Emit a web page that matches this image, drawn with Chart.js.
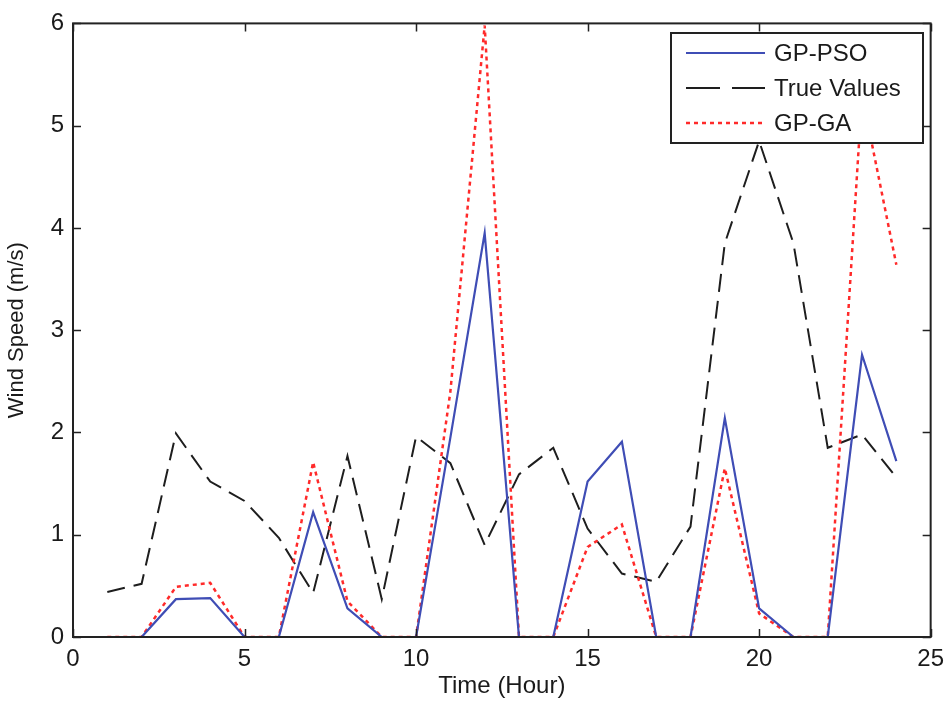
<!DOCTYPE html>
<html>
<head>
<meta charset="utf-8">
<script src="https://cdn.jsdelivr.net/npm/chart.js@4"></script>
<style>
  html, body { margin: 0; padding: 0; background: #fff; }
  #wrap { width: 952px; height: 705px; }
</style>
</head>
<body>
<div id="wrap"><canvas id="chart" width="952" height="705"></canvas></div>
<script>
// hours on the x axis
const hours = [1, 2, 3, 4, 5, 6, 7, 8, 9, 10, 11, 12, 13, 14, 15, 16, 17, 18, 19, 20, 21, 22, 23, 24];

// series (m/s)
const gpPso = [0, 0, 0.37, 0.38, 0, 0, 1.22, 0.28, 0, 0, 1.95, 3.95, 0, 0, 1.52, 1.91, 0, 0, 2.14, 0.28, 0, 0, 2.76, 1.72];
const trueValues = [0.44, 0.52, 1.99, 1.52, 1.33, 0.97, 0.43, 1.77, 0.37, 1.96, 1.70, 0.90, 1.59, 1.85, 1.06, 0.62, 0.54, 1.08, 3.85, 4.85, 3.85, 1.85, 1.98, 1.56];
const gpGa = [0, 0, 0.49, 0.53, 0, 0, 1.71, 0.35, 0, 0, 2.40, 5.98, 0, 0, 0.88, 1.10, 0, 0, 1.65, 0.23, 0, 0, 5.30, 3.64];

const xTicks = [0, 5, 10, 15, 20, 25];
const yTicks = [0, 1, 2, 3, 4, 5, 6];

const FONT = 'Liberation Sans, Arial, sans-serif';
const TXT = '#1a1a1a';

const toPoints = (ys) => ys.map((y, i) => ({ x: hours[i], y: y }));

// matlab-style frame: box + ticks pointing inwards on all four sides, legend in the corner
const framePlugin = {
    id: 'frame',
    afterDatasetsDraw(chart) {
        const { ctx, chartArea: a, scales } = chart;
        const len = 8;
        ctx.save();
        ctx.strokeStyle = '#222';
        ctx.lineWidth = 1.5;
        ctx.beginPath();
        xTicks.forEach(v => {
            const px = Math.round(scales.x.getPixelForValue(v)) + 0.5;
            ctx.moveTo(px, a.bottom); ctx.lineTo(px, a.bottom - len);
            ctx.moveTo(px, a.top); ctx.lineTo(px, a.top + len);
        });
        yTicks.forEach(v => {
            const py = Math.round(scales.y.getPixelForValue(v)) + 0.5;
            ctx.moveTo(a.left, py); ctx.lineTo(a.left + len, py);
            ctx.moveTo(a.right, py); ctx.lineTo(a.right - len, py);
        });
        ctx.stroke();
        ctx.lineWidth = 2;
        ctx.strokeRect(a.left, a.top, a.right - a.left, a.bottom - a.top);

        // legend box
        const bx = 671, by = 33, bw = 252, bh = 110;
        ctx.fillStyle = '#fff';
        ctx.fillRect(bx, by, bw, bh);
        ctx.strokeStyle = '#222';
        ctx.lineWidth = 2;
        ctx.strokeRect(bx, by, bw, bh);
        ctx.font = '24px ' + FONT;
        ctx.textBaseline = 'middle';
        chart.data.datasets.forEach((ds, i) => {
            const cy = by + 20 + i * 35;
            ctx.strokeStyle = ds.borderColor;
            ctx.lineWidth = ds.borderWidth;
            ctx.setLineDash(ds.legendDash || []);
            ctx.beginPath();
            ctx.moveTo(bx + 15, cy); ctx.lineTo(bx + 94, cy);
            ctx.stroke();
            ctx.setLineDash([]);
            ctx.fillStyle = TXT;
            ctx.fillText(ds.label, bx + 103, cy + 1);
        });
        ctx.restore();
    }
};

new Chart(document.getElementById('chart'), {
    type: 'line',
    data: {
        datasets: [
            {
                label: 'GP-PSO',
                data: toPoints(gpPso),
                borderColor: '#3f4db5',
                borderWidth: 2.2,
                pointRadius: 0,
                tension: 0,
                order: 1
            },
            {
                label: 'True Values',
                data: toPoints(trueValues),
                borderColor: '#1e1e1e',
                borderWidth: 2,
                borderDash: [18, 9],
                legendDash: [34, 12],
                pointRadius: 0,
                tension: 0,
                order: 3
            },
            {
                label: 'GP-GA',
                data: toPoints(gpGa),
                borderColor: '#ff2a2a',
                borderWidth: 2.5,
                borderDash: [4, 4],
                legendDash: [4, 4],
                pointRadius: 0,
                tension: 0,
                order: 2
            }
        ]
    },
    options: {
        responsive: false,
        animation: false,
        layout: { padding: { top: 19, right: 19, left: 0, bottom: 0 } },
        plugins: {
            legend: { display: false },
            tooltip: { enabled: false }
        },
        scales: {
            x: {
                type: 'linear',
                min: 0,
                max: 25,
                afterBuildTicks: (scale) => { scale.ticks = xTicks.map(v => ({ value: v })); },
                afterFit: (scale) => { scale.height = 68; },
                grid: { display: false, drawTicks: false },
                border: { display: false },
                ticks: { padding: 8, color: TXT, font: { family: FONT, size: 24 }, maxRotation: 0 },
                title: { display: true, text: 'Time (Hour)', color: TXT, font: { family: FONT, size: 24 }, padding: { top: 2 } }
            },
            y: {
                min: 0,
                max: 6,
                afterBuildTicks: (scale) => { scale.ticks = yTicks.map(v => ({ value: v })); },
                afterFit: (scale) => { scale.width = 73; },
                grid: { display: false, drawTicks: false },
                border: { display: false },
                ticks: { padding: 9, color: TXT, font: { family: FONT, size: 24 } },
                title: { display: true, text: 'Wind Speed (m/s)', color: TXT, font: { family: FONT, size: 22 }, padding: { bottom: 0 } }
            }
        }
    },
    plugins: [framePlugin]
});
</script>
</body>
</html>
